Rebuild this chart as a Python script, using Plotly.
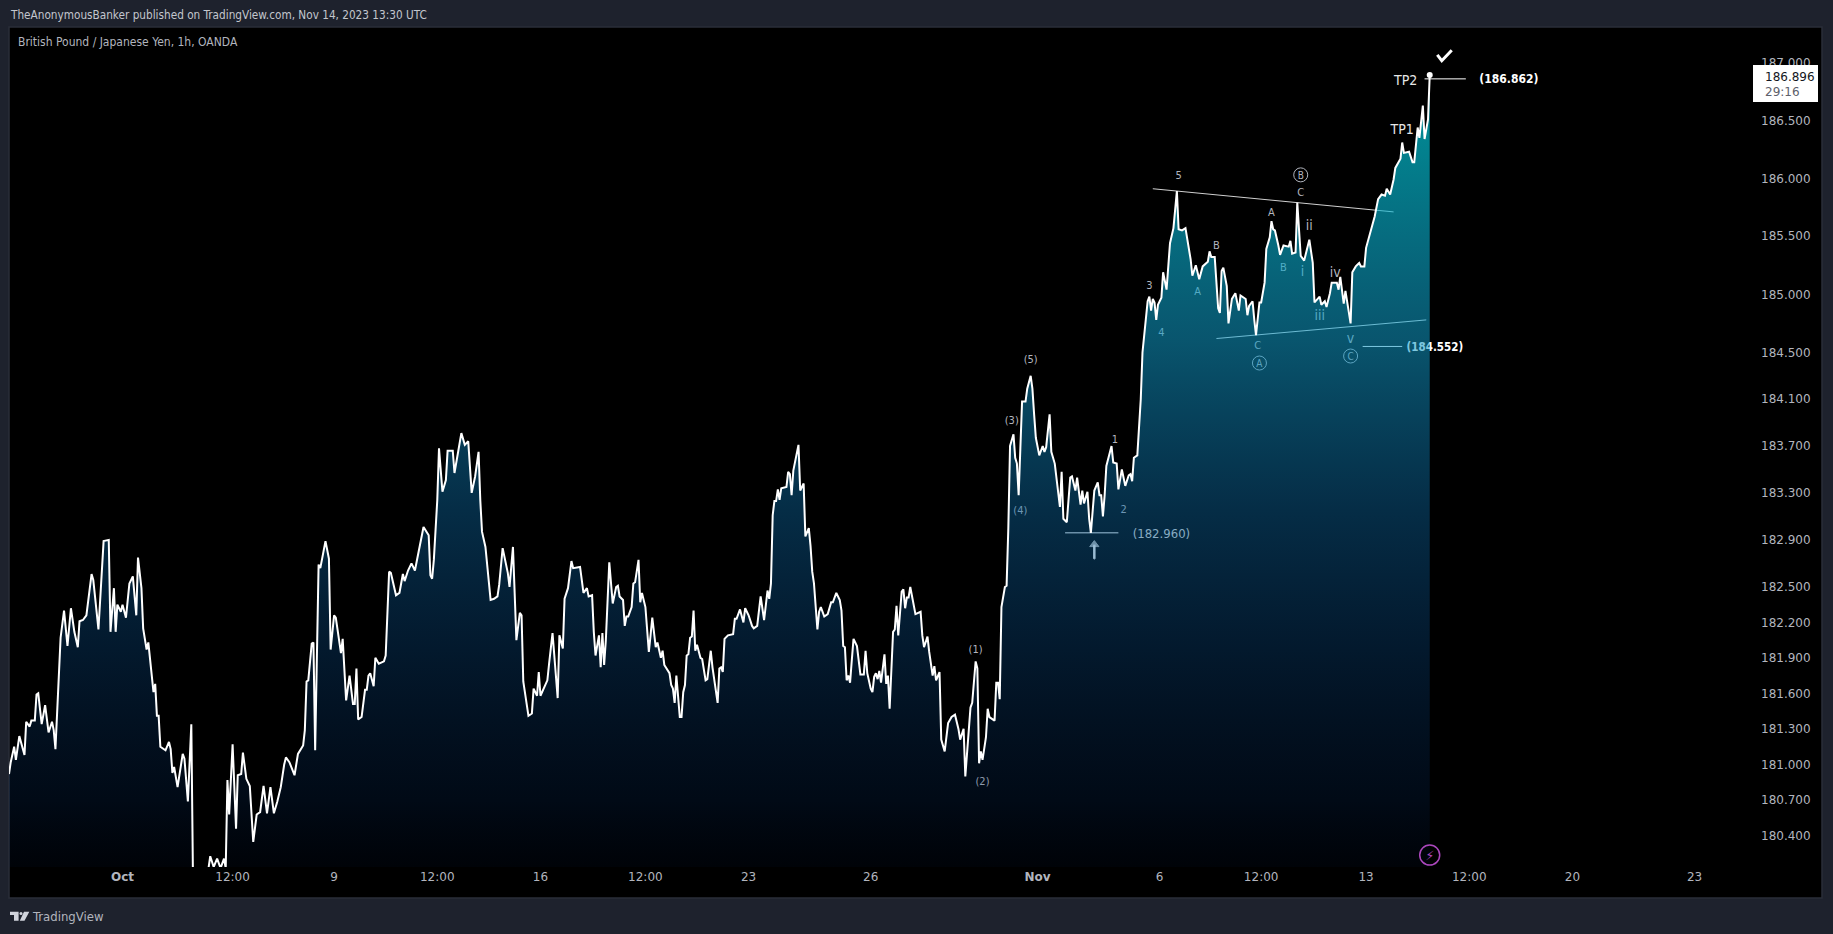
import math
import plotly.graph_objects as go

# hourly bar index (0 = first bar on screen) and GBP/JPY close
bars = [
0,1,3,4,6,9,10,12,13,15,16,17,19,21,23,25,26,27,30,32,
34,36,38,40,41,43,45,48,49,51,52,55,58,59,61,62,63,65,66,68,
70,72,74,75,77,78,80,81,83,84,85,86,87,88,91,93,94,95,96,98,
101,102,104,106,107,111,115,116,117,119,121,123,125,126,127,128,130,132,133,135,
136,138,140,142,144,146,148,150,152,154,156,158,160,161,163,166,168,171,172,173,
174,176,177,178,180,181,184,186,187,189,190,193,194,196,198,200,201,202,203,205,
207,208,209,210,212,213,215,218,219,221,222,225,227,229,230,232,234,236,241,244,
245,246,247,249,250,252,254,255,258,259,263,265,267,269,271,273,274,275,277,280,
282,284,285,287,290,291,293,295,297,298,299,302,304,305,307,308,309,313,314,316,
319,320,322,323,325,327,328,332,334,336,337,339,340,341,343,344,345,346,347,349,
351,353,354,355,357,358,359,360,362,363,364,366,367,368,370,372,373,374,376,377,
379,380,381,384,385,386,387,388,390,391,392,393,394,395,396,397,398,399,400,402,
403,405,406,408,409,412,413,414,415,416,418,421,422,423,425,427,428,430,432,433,
435,437,439,441,442,443,444,445,446,447,448,449,452,453,454,455,456,457,459,460,
462,463,465,466,467,468,470,471,472,474,476,478,479,481,483,484,485,486,487,488,
489,490,491,493,495,497,498,499,501,502,503,504,505,506,507,509,510,511,512,514,
515,516,517,519,520,521,522,523,524,527,530,531,532,534,535,537,538,539,541,542,
544,546,547,548,550,552,553,555,556,559,560,562,563,564,565,566,568,569,570,573,
574,575,576,577,579,580,581,582,584,585,586,587,588,589,591,592,594,595,596,597,
599,601,602,603,605,606,608,610,611,612,613,615,616,617,618,620,621,622,623,624,
625,627,628,629,631,633,634,635,636,637,638,641,642,644,645,647,649,651,652,653,
654,656,658,659,661,662,663,664,665,666,667,668,670,671,673,674,675,677,679,680,
682,684,686,687,688,690,692,694,697,698,699,701,703,704,705,706,708,709,711,712,
713,715,716,719,720,721,723,724,725,727,728,730,731,733,734,735,736,738,739,741,
744,745,746,748,749,751,753,756,758,759,762,763,765,766,768,769,772,773,774,776,
777,780,781,783,785,786,788,789,790,791,792,794,796,798,800,801,803,805,806,809,
810,811,814,816,817,819,820,822,823,825,826,
]
prices = [
180.92,181.02,181.15,181.04,181.24,181.08,181.36,181.32,181.37,181.37,181.59,181.60,181.34,181.50,181.27,181.36,181.29,181.13,182.07,182.30,
182.00,182.32,182.12,181.99,182.21,182.22,182.26,182.61,182.56,182.25,182.14,182.89,182.90,182.12,182.49,182.12,182.35,182.29,182.35,182.24,
182.53,182.59,182.26,182.75,182.49,182.15,181.97,182.03,181.74,181.61,181.68,181.41,181.41,181.15,181.12,181.19,181.13,180.93,180.98,180.81,
181.09,181.05,180.69,181.34,180.00,179.80,180.10,180.13,180.23,180.14,180.21,180.13,180.21,180.13,180.87,180.58,181.17,180.46,180.91,180.92,
181.10,180.88,180.82,180.35,180.58,180.60,180.82,180.59,180.81,180.59,180.69,180.81,181.00,181.06,181.02,180.91,181.09,181.16,181.29,181.70,
181.71,182.02,182.03,181.12,182.69,182.66,182.89,182.74,181.97,182.26,182.24,181.94,182.06,181.54,181.75,181.51,181.51,181.81,181.38,181.40,
181.63,181.63,181.75,181.77,181.66,181.90,181.85,181.87,181.92,182.63,182.62,182.43,182.45,182.61,182.55,182.64,182.70,182.64,183.01,182.94,
182.60,182.57,182.73,183.24,183.68,183.31,183.41,183.66,183.66,183.47,183.81,183.71,183.74,183.30,183.44,183.65,183.24,182.97,182.84,182.39,
182.40,182.42,182.52,182.83,182.62,182.50,182.84,182.05,182.28,182.26,181.70,181.41,181.43,181.64,181.58,181.78,181.58,181.71,181.85,182.11,
181.56,182.09,181.98,182.40,182.49,182.72,182.66,182.67,182.45,182.49,182.42,182.43,182.12,181.92,182.09,181.82,182.11,181.84,182.05,182.71,
182.36,182.50,182.51,182.42,182.39,182.17,182.25,182.25,182.33,182.53,182.54,182.73,182.37,182.45,182.33,181.95,182.09,182.24,181.99,182.03,
181.90,181.96,181.84,181.77,181.67,181.64,181.52,181.75,181.40,181.40,181.61,181.67,181.92,181.93,182.07,182.08,182.30,181.96,182.01,181.90,
181.89,181.71,181.72,181.96,181.82,181.52,181.81,181.82,181.78,182.06,182.09,182.10,182.23,182.23,182.31,182.20,182.32,182.26,182.17,182.15,
182.17,182.42,182.22,182.47,182.40,182.53,183.11,183.23,183.23,183.33,183.24,183.34,183.35,183.48,183.46,183.28,183.49,183.56,183.71,183.32,
183.38,182.93,183.00,182.85,182.63,182.53,182.14,182.29,182.33,182.25,182.27,182.37,182.37,182.45,182.39,182.30,182.00,181.99,181.71,181.75,
181.69,181.88,182.06,182.00,181.76,181.76,181.96,181.77,181.64,181.61,181.74,181.77,181.72,181.79,181.69,181.93,181.68,181.75,181.47,182.12,
182.14,182.34,182.09,182.46,182.48,182.32,182.41,182.41,182.50,182.27,182.29,182.09,181.99,182.08,181.95,181.75,181.83,181.71,181.78,181.21,
181.11,181.35,181.37,181.40,181.42,181.30,181.21,181.30,180.90,181.48,181.52,181.87,181.81,181.01,181.11,181.04,181.23,181.47,181.40,181.37,
181.69,181.69,181.55,182.33,182.50,182.51,183.00,183.70,183.80,183.60,183.55,183.28,183.68,184.08,184.08,184.19,184.30,184.19,183.97,183.77,
183.62,183.70,183.65,183.69,183.97,183.65,183.55,183.30,183.18,183.48,183.08,183.05,183.28,183.43,183.44,183.32,183.43,183.32,183.20,183.32,
183.21,183.31,183.08,182.96,183.32,183.39,183.28,183.28,183.10,183.28,183.53,183.70,183.56,183.55,183.33,183.50,183.36,183.45,183.46,183.40,
183.60,183.62,184.10,184.50,184.83,184.94,184.98,184.86,184.96,184.93,184.78,184.91,184.97,185.19,185.04,185.27,185.44,185.57,185.89,185.56,
185.55,185.57,185.39,185.30,185.16,185.25,185.13,185.24,185.28,185.37,185.32,185.32,184.88,184.84,185.20,185.23,185.07,184.75,184.96,184.99,
185.01,184.86,184.99,184.96,184.82,184.90,184.94,184.78,184.65,184.93,184.93,185.10,185.39,185.49,185.63,185.56,185.55,185.42,185.34,185.42,
185.41,185.46,185.35,185.36,185.79,185.33,185.29,185.47,185.27,184.93,184.98,184.91,184.94,184.89,185.01,185.10,185.10,185.04,185.15,184.92,
185.03,184.75,185.19,185.24,185.27,185.24,185.24,185.40,185.45,185.52,185.57,185.67,185.82,185.86,185.85,185.91,185.86,185.99,186.09,186.17,
186.31,186.22,186.23,186.14,186.14,186.44,186.35,186.63,186.34,186.51,186.896,
]
assert len(bars) == len(prices), (len(bars), len(prices))

y_tick_values = [187.0,186.5,186.0,185.5,185.0,184.5,184.1,183.7,183.3,182.9,182.5,182.2,181.9,181.6,181.3,181.0,180.7,180.4]
x_tick_bars = [66,130,189,249,309,370,430,501,598,669,728,789,849,909,980]
x_tick_labels = ["<b>Oct</b>","12:00","9","12:00","16","12:00","23","26","<b>Nov</b>","6","12:00","13","12:00","20","23"]

wave_text  = ["5","3","4","A","B","C","A","B","C","ii","i","iii","iv","v","(1)","(2)","(3)","(4)","(5)","1","2"]
wave_bar   = [680,663,670,691,702,726,734,741,751,756,752,762,771,780,562,566,583,588,594,643,648]
wave_price = [186.015,185.065,184.665,185.015,185.415,184.555,185.695,185.225,185.875,185.585,185.185,184.805,185.175,184.615,181.965,180.855,183.915,183.145,184.435,183.745,183.155]
wave_size  = [11,11,11,11,11,11,11,11,11,14,14,14,14,14,11,11,11,11,11,11,11]

circle_text  = ["A","B","C"]
circle_bar   = [727,751,780]
circle_price = [184.41,186.03,184.47]

level_low_bar, level_low = 670, 182.960
level_mid_bar, level_mid = 829, 184.552
level_top_bar, level_top = 872, 186.862

check_bar   = [830.4, 833, 838.8]
check_price = [187.07, 187.02, 187.11]

BG = "#1e222d"
GREY = "#b2b5be"
FONT = "DejaVu Sans Condensed"
L, R, T, B = 9, 1760, 27, 867     # plot box in the window
PX_PER_BAR = 1.72
TEXT_NUDGE = 0.012

def px(x): return (x - L) / (R - L)
def py(y): return (B - y) / (B - T)

fig = go.Figure()

def seg(x, y, color, width=1):
    fig.add_trace(go.Scatter(x=x, y=y, mode="lines", line=dict(color=color, width=width), hoverinfo="skip"))

# Drawings sit under the translucent area, so they pick up its tint
seg([665, 805], [185.91, 185.71], "#d0d0d0")
seg([702, 824], [184.62, 184.78], "#e0e0e0")
seg([614, 645], [level_low, level_low], "#ffffff")
seg([787, 810], [level_mid, level_mid], "#ffffff")
seg([823, 847], [level_top, level_top], "#ffffff")
# arrow under the 182.960 low
fig.add_trace(go.Scatter(x=[631, 631], y=[182.74, 182.86], mode="lines+markers",
                         line=dict(color="#f2f2f2", width=2.5),
                         marker=dict(symbol=["circle", "triangle-up"], size=[1, 8], color="#f2f2f2"), hoverinfo="skip"))
fig.add_trace(go.Scatter(x=wave_bar, y=wave_price, mode="text", text=wave_text,
                         textfont=dict(family=FONT, size=wave_size, color=GREY), hoverinfo="skip"))
fig.add_trace(go.Scatter(x=circle_bar, y=circle_price, mode="markers", 
                         marker=dict(symbol="circle-open", size=14, line=dict(color=GREY, width=1), color=GREY), hoverinfo="skip"))
fig.add_trace(go.Scatter(x=circle_bar, y=[p - TEXT_NUDGE for p in circle_price], mode="text", text=circle_text,
                         textfont=dict(family=FONT, size=10, color=GREY), hoverinfo="skip"))
fig.add_trace(go.Scatter(x=[level_low_bar, level_mid_bar, level_top_bar],
                         y=[level_low - TEXT_NUDGE, level_mid - TEXT_NUDGE, level_top - TEXT_NUDGE], mode="text",
                         text=["(182.960)", "<b>(184.552)</b>", "<b>(186.862)</b>"],
                         textfont=dict(family=FONT, size=[13, 11.5, 12], color=["#d8d8d8", "#ffffff", "#ffffff"]), hoverinfo="skip"))
fig.add_trace(go.Scatter(x=[810, 812], y=[186.41, 186.84], mode="text", text=["TP1", "TP2"],
                         textfont=dict(family=FONT, size=14, color="#e6e6e6"), hoverinfo="skip"))

# gradient area: baseline below the visible range, then the series
fig.add_trace(go.Scatter(x=[bars[0], bars[-1]], y=[179.5, 179.5], mode="lines", line=dict(width=0), hoverinfo="skip"))
fig.add_trace(go.Scatter(x=bars, y=prices, mode="lines", line=dict(width=0), fill="tonexty", hoverinfo="skip",
                         fillgradient=dict(type="vertical", colorscale=[
                             [0.0,   "rgba(0,30,80,0.0)"],
                             [0.088, "rgba(0,30,80,0.10)"],
                             [0.165, "rgba(5,50,110,0.20)"],
                             [0.338, "rgba(10,83,150,0.30)"],
                             [0.499, "rgba(12,107,167,0.42)"],
                             [0.695, "rgba(16,155,200,0.55)"],
                             [0.937, "rgba(3,197,214,0.68)"],
                             [1.0,   "rgba(3,197,214,0.68)"]])))
fig.add_trace(go.Scatter(x=bars, y=prices, mode="lines", line=dict(color="#ffffff", width=2), hoverinfo="skip"))
fig.add_trace(go.Scatter(x=[bars[-1]], y=[prices[-1]], mode="markers", marker=dict(color="#ffffff", size=6), hoverinfo="skip"))
fig.add_trace(go.Scatter(x=check_bar, y=check_price, mode="lines", line=dict(color="#ffffff", width=3), hoverinfo="skip"))
fig.add_trace(go.Scatter(x=[826], y=[180.24], mode="markers", 
                         marker=dict(symbol="circle-open", size=20, line=dict(color="#ab47bc", width=1.5), color="#ab47bc"), hoverinfo="skip"))
fig.add_trace(go.Scatter(x=[826], y=[180.23], mode="text", text=["⚡"],
                         textfont=dict(family="DejaVu Sans", size=13, color="#ab47bc"), hoverinfo="skip"))

shapes = [
    dict(type="rect", xref="paper", yref="paper", x0=px(9), x1=px(1822), y0=py(898), y1=py(27),
         fillcolor="#000000", line=dict(color="#2a2e39", width=1.5), layer="below"),
    dict(type="rect", xref="paper", yref="paper", x0=px(1753), x1=px(1818), y0=py(102), y1=py(65),
         fillcolor="#ffffff", line=dict(width=0), layer="above"),
    dict(type="path", xref="paper", yref="paper", fillcolor="#d1d4dc", line=dict(width=0), layer="above",
         path=("M {a} {t} L {b} {t} L {b} {m} L {c} {m} L {c} {u} L {d} {u} L {d} {m} L {a} {m} Z ".format(
                   a=px(10), b=px(18.6), c=px(18.6), d=px(14), t=py(911.7), m=py(915), u=py(920.7))
               + "M {a} {t} L {b} {t} L {c} {u} L {d} {u} Z".format(
                   a=px(24), b=px(29.3), c=px(24.5), d=px(19.8), t=py(911.7), u=py(920.7)))),
    dict(type="circle", xref="paper", yref="paper", fillcolor="#d1d4dc", line=dict(width=0), layer="above",
         x0=px(19.5), x1=px(22.5), y0=py(915), y1=py(912)),
]

def note(x, y, text, size=12, color=GREY, anchor="left", family=FONT):
    return dict(xref="paper", yref="paper", x=px(x), y=py(y), text=text, showarrow=False,
                xanchor=anchor, yanchor="middle", font=dict(family=family, size=size, color=color))

annotations = [
    note(8, 15, "TheAnonymousBanker published on TradingView.com, Nov 14, 2023 13:30 UTC", 11.7, "#c3c6ce"),
    note(16, 42, "British Pound / Japanese Yen, 1h, OANDA", 12, GREY),
    note(30, 916.5, "TradingView", 13, GREY),
    note(1763, 77, "186.896", 12, "#131722", family="DejaVu Sans"),
    note(1763, 92, "29:16", 12, "#5d606b", family="DejaVu Sans"),
]

fig.update_layout(
    width=1833, height=934, margin=dict(l=L, r=1833 - R, t=T, b=934 - B),
    paper_bgcolor=BG, plot_bgcolor="rgba(0,0,0,0)", showlegend=False, shapes=shapes, annotations=annotations,
    xaxis=dict(range=[0, (R - L) / PX_PER_BAR], showgrid=False, zeroline=False, showline=False, ticks="", ticklen=0,
               ticklabelstandoff=1, tickmode="array", tickvals=x_tick_bars, ticktext=x_tick_labels,
               tickfont=dict(family="DejaVu Sans", size=12, color=GREY)),
    yaxis=dict(type="log", side="right", range=[math.log10(180.14), math.log10(187.313)],
               showgrid=False, zeroline=False, showline=False, ticks="", ticklen=0,
               tickmode="array", tickvals=y_tick_values, ticktext=["%.3f" % v for v in y_tick_values],
               tickfont=dict(family="DejaVu Sans", size=12, color=GREY)),
)

fig.write_html("out.html", config={"displayModeBar": False},
               post_script="document.body.style.margin='0';document.body.style.overflow='hidden';")
